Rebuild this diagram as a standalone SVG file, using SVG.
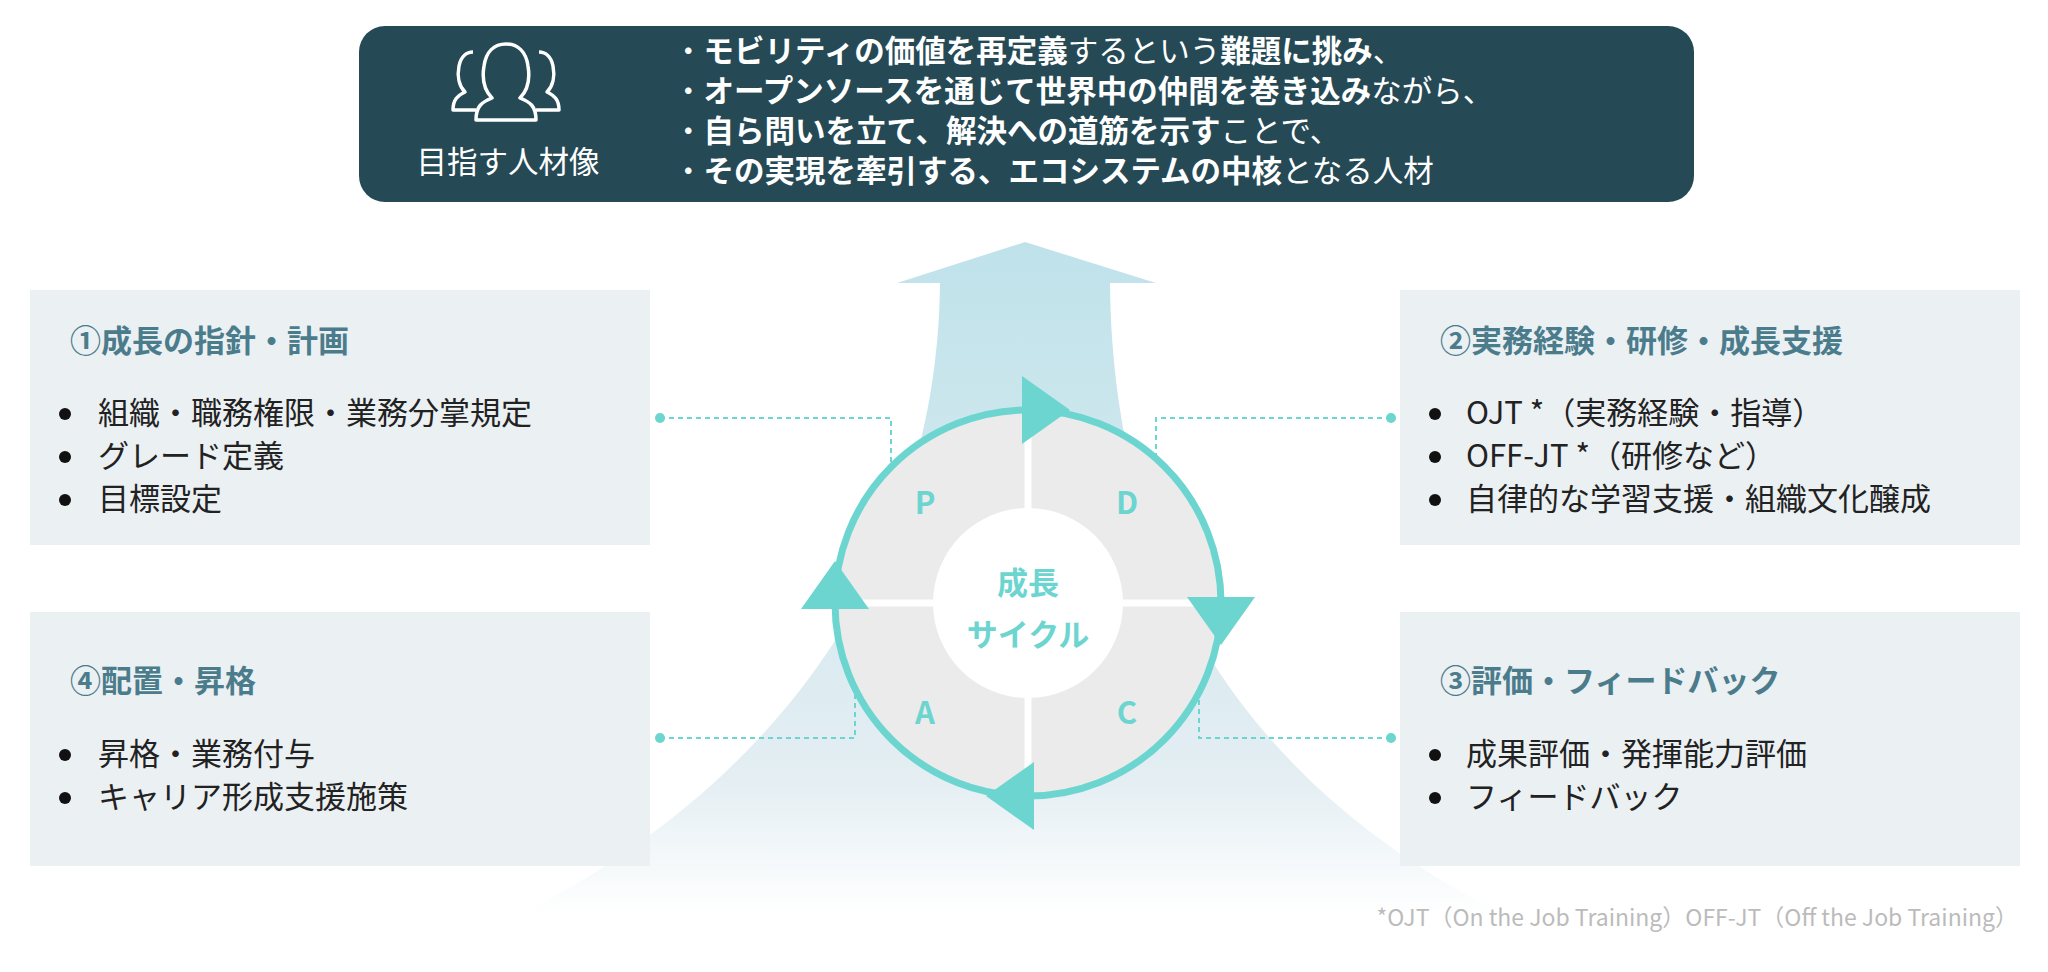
<svg xmlns="http://www.w3.org/2000/svg" width="2048" height="972" viewBox="0 0 2048 972">
<style>
text{font-family:"Noto Sans CJK JP","Noto Sans",sans-serif}
.ban{fill:#fff;font-size:30.5px}
.b{font-weight:bold}
.ttl{fill:#4b7c8c;font-size:31px;font-weight:bold}
.itm{fill:#222;font-size:31px}
.pd{fill:#6dd5d0;font-size:31px;font-weight:bold;text-anchor:middle}
.dash{fill:none;stroke:#6dd5d0;stroke-width:2;stroke-dasharray:5 4}
.box{fill:#ebf0f3}
.dot{fill:#111}
</style>
<defs>
<linearGradient id="g" x1="0" y1="0" x2="0" y2="1">
<stop offset="0" stop-color="#bfe2ea"/>
<stop offset="0.8" stop-color="#e4eef3"/>
<stop offset="1" stop-color="#ffffff"/>
</linearGradient>
<polygon id="ah" points="-18,-34 -18,34 30,0" fill="#6dd5d0"/>
</defs>
<rect width="2048" height="972" fill="#fff"/>
<path d="M1025,242 L1156,283 L1110,283 C1112,520 1200,760 1502,914 L522,914 C820,760 938,520 940,283 L897,283 Z" fill="url(#g)"/>
<g id="banner">
<rect x="359" y="26" width="1335" height="176" rx="26" fill="#254a56"/>
<g fill="none" stroke="#fff" stroke-width="3.5" stroke-linejoin="round">
<path d="M476,110 L453,110 c0,-10 4,-14 12,-18 c-6,-6 -8,-16 -6,-26 c2,-10 8,-14 14,-14"/>
<path d="M536,110 L559,110 c0,-10 -4,-14 -12,-18 c6,-6 8,-16 6,-26 c-2,-10 -8,-14 -14,-14"/>
<path d="M476,120 c0,-14 6,-18 16,-22 c-8,-8 -10,-20 -8,-32 c2,-14 10,-22 22,-22 c12,0 20,8 22,22 c2,12 0,24 -8,32 c10,4 16,8 16,22 Z"/>
</g>
<text x="508" y="173" class="ban" text-anchor="middle" font-size="31">目指す人材像</text>
<text x="673" y="62" class="ban">・<tspan class="b">モビリティの価値を再定義</tspan>するという<tspan class="b">難題に挑み</tspan>、</text>
<text x="673" y="102" class="ban">・<tspan class="b">オープンソースを通じて世界中の仲間を巻き込み</tspan>ながら、</text>
<text x="673" y="142" class="ban">・<tspan class="b">自ら問いを立て、解決への道筋を示す</tspan>ことで、</text>
<text x="673" y="182" class="ban">・<tspan class="b">その実現を牽引する、エコシステムの中核</tspan>となる人材</text>
</g>
<g id="box1">
<rect class="box" x="30" y="290" width="620" height="255"/>
<text x="70" y="352" class="ttl">①成長の指針・計画</text>
<circle class="dot" cx="65" cy="414" r="6"/><circle class="dot" cx="65" cy="457" r="6"/><circle class="dot" cx="65" cy="500" r="6"/>
<text x="98" y="424" class="itm">組織・職務権限・業務分掌規定</text>
<text x="98" y="467" class="itm">グレード定義</text>
<text x="98" y="510" class="itm">目標設定</text>
</g>
<g id="box2">
<rect class="box" x="1400" y="290" width="620" height="255"/>
<text x="1440" y="352" class="ttl">②実務経験・研修・成長支援</text>
<circle class="dot" cx="1435" cy="414" r="6"/><circle class="dot" cx="1435" cy="457" r="6"/><circle class="dot" cx="1435" cy="500" r="6"/>
<text x="1466" y="424" class="itm">OJT *（実務経験・指導）</text>
<text x="1466" y="467" class="itm">OFF-JT *（研修など）</text>
<text x="1466" y="510" class="itm">自律的な学習支援・組織文化醸成</text>
</g>
<g id="box4">
<rect class="box" x="30" y="612" width="620" height="254"/>
<text x="70" y="692" class="ttl">④配置・昇格</text>
<circle class="dot" cx="65" cy="755" r="6"/><circle class="dot" cx="65" cy="798" r="6"/>
<text x="98" y="765" class="itm">昇格・業務付与</text>
<text x="98" y="808" class="itm">キャリア形成支援施策</text>
</g>
<g id="box3">
<rect class="box" x="1400" y="612" width="620" height="254"/>
<text x="1440" y="692" class="ttl">③評価・フィードバック</text>
<circle class="dot" cx="1435" cy="755" r="6"/><circle class="dot" cx="1435" cy="798" r="6"/>
<text x="1466" y="765" class="itm">成果評価・発揮能力評価</text>
<text x="1466" y="808" class="itm">フィードバック</text>
</g>
<g id="connectors">
<path class="dash" d="M660,418 H891 V464"/>
<path class="dash" d="M1391,418 H1156 V464"/>
<path class="dash" d="M660,738 H855 V692"/>
<path class="dash" d="M1391,738 H1199 V692"/>
<circle cx="660" cy="418" r="5" fill="#6dd5d0"/>
<circle cx="1391" cy="418" r="5" fill="#6dd5d0"/>
<circle cx="660" cy="738" r="5" fill="#6dd5d0"/>
<circle cx="1391" cy="738" r="5" fill="#6dd5d0"/>
</g>
<g id="cycle">
<circle cx="1028" cy="603" r="190" fill="#ebebeb"/>
<path d="M1028,410 V796 M835,603 H1221" stroke="#fff" stroke-width="7"/>
<circle cx="1028" cy="603" r="95" fill="#fff"/>
<circle cx="1028" cy="603" r="193" fill="none" stroke="#6dd5d0" stroke-width="7"/>
<use href="#ah" transform="translate(1040 410)"/>
<use href="#ah" transform="rotate(90 1028 603) translate(1040 410)"/>
<use href="#ah" transform="rotate(180 1028 603) translate(1040 410)"/>
<use href="#ah" transform="rotate(270 1028 603) translate(1040 410)"/>
<text x="925" y="514" class="pd">P</text>
<text x="1127" y="514" class="pd">D</text>
<text x="925" y="724" class="pd">A</text>
<text x="1127" y="724" class="pd">C</text>
<text x="1028" y="594" class="pd" font-size="40">成長</text>
<text x="1028" y="646" class="pd" font-size="40">サイクル</text>
</g>
<text x="2018" y="926" fill="#bbb" font-size="23" text-anchor="end">*OJT（On the Job Training）OFF-JT（Off the Job Training）</text>
</svg>
